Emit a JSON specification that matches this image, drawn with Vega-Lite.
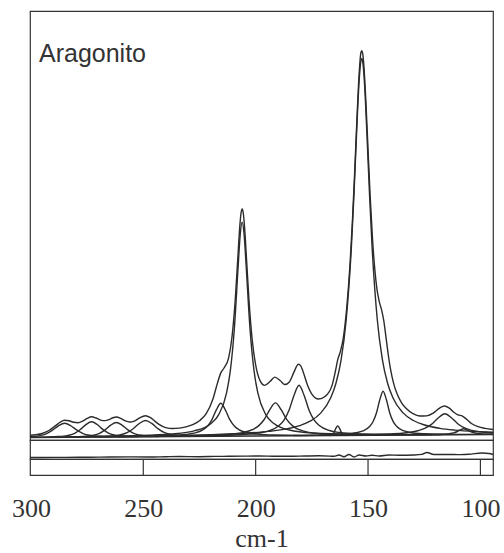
{
  "$schema": "https://vega.github.io/schema/vega-lite/v6.json",
  "padding": {"left": 10, "top": 10, "right": 5, "bottom": 0},
  "background": "white",
  "spacing": 0,
  "bounds": "flush",
  "config": {"view": {"stroke": "#333", "strokeWidth": 1.2}, "concat": {"spacing": 0}},
  "datasets": {
    "spec": [
      {"s":"base","wn":300.4,"v":0.49},{"s":"base","wn":94.4,"v":3.5},
      {"s":"sum","wn":300.4,"v":2.69},{"s":"sum","wn":298,"v":3.23},{"s":"sum","wn":295,"v":4.54},{"s":"sum","wn":292,"v":7.5},{"s":"sum","wn":289,"v":12.32},{"s":"sum","wn":287,"v":15.76},{"s":"sum","wn":285,"v":17.73},{"s":"sum","wn":283,"v":17.2},{"s":"sum","wn":281,"v":15.71},{"s":"sum","wn":279,"v":15.32},{"s":"sum","wn":277,"v":16.83},{"s":"sum","wn":275,"v":19.51},{"s":"sum","wn":273,"v":21.18},{"s":"sum","wn":271,"v":20.0},{"s":"sum","wn":269,"v":17.92},{"s":"sum","wn":267,"v":17.33},{"s":"sum","wn":265,"v":18.68},{"s":"sum","wn":263.5,"v":20.28},{"s":"sum","wn":262,"v":20.95},{"s":"sum","wn":260,"v":19.52},{"s":"sum","wn":258,"v":17.09},{"s":"sum","wn":256,"v":16.03},{"s":"sum","wn":254,"v":16.94},{"s":"sum","wn":252,"v":19.61},{"s":"sum","wn":249,"v":22.3},{"s":"sum","wn":247,"v":20.61},{"s":"sum","wn":245,"v":17.08},{"s":"sum","wn":243,"v":13.7},{"s":"sum","wn":240,"v":10.42},{"s":"sum","wn":237,"v":9.48},{"s":"sum","wn":234,"v":9.86},{"s":"sum","wn":231,"v":11.16},{"s":"sum","wn":228,"v":13.38},{"s":"sum","wn":225,"v":17.22},{"s":"sum","wn":222,"v":24.33},{"s":"sum","wn":219,"v":39.05},{"s":"sum","wn":217,"v":54.84},{"s":"sum","wn":215.5,"v":65.13},{"s":"sum","wn":214,"v":70.21},{"s":"sum","wn":212,"v":80.47},{"s":"sum","wn":210.5,"v":101.51},{"s":"sum","wn":209,"v":140.97},{"s":"sum","wn":208,"v":177.65},{"s":"sum","wn":207,"v":213.38},{"s":"sum","wn":206.5,"v":225.01},{"s":"sum","wn":206,"v":229.12},{"s":"sum","wn":205.5,"v":224.74},{"s":"sum","wn":205,"v":212.84},{"s":"sum","wn":204,"v":176.52},{"s":"sum","wn":203,"v":139.02},{"s":"sum","wn":201.5,"v":97.52},{"s":"sum","wn":200,"v":73.12},{"s":"sum","wn":198,"v":57.17},{"s":"sum","wn":196,"v":52.65},{"s":"sum","wn":193.5,"v":56.75},{"s":"sum","wn":191.5,"v":60.85},{"s":"sum","wn":189,"v":57.19},{"s":"sum","wn":187,"v":53.46},{"s":"sum","wn":185,"v":56.02},{"s":"sum","wn":183,"v":65.62},{"s":"sum","wn":181,"v":73.82},{"s":"sum","wn":180,"v":72.34},{"s":"sum","wn":179,"v":67.02},{"s":"sum","wn":177,"v":53.31},{"s":"sum","wn":175,"v":43.96},{"s":"sum","wn":172,"v":39.03},{"s":"sum","wn":169,"v":41.8},{"s":"sum","wn":166,"v":52.65},{"s":"sum","wn":164.5,"v":67.02},{"s":"sum","wn":163.5,"v":78.15},{"s":"sum","wn":162.5,"v":85.02},{"s":"sum","wn":161,"v":100.1},{"s":"sum","wn":159.5,"v":129.71},{"s":"sum","wn":158,"v":174.27},{"s":"sum","wn":157,"v":214.41},{"s":"sum","wn":156,"v":263.0},{"s":"sum","wn":155,"v":315.97},{"s":"sum","wn":154,"v":362.5},{"s":"sum","wn":153.2,"v":385.0},{"s":"sum","wn":152.8,"v":387.2},{"s":"sum","wn":152.4,"v":384.9},{"s":"sum","wn":152,"v":376.74},{"s":"sum","wn":151,"v":338.78},{"s":"sum","wn":150,"v":288.4},{"s":"sum","wn":149,"v":239.52},{"s":"sum","wn":148,"v":199.05},{"s":"sum","wn":147,"v":168.83},{"s":"sum","wn":146,"v":148.46},{"s":"sum","wn":145,"v":136.36},{"s":"sum","wn":144,"v":128.39},{"s":"sum","wn":143,"v":117.39},{"s":"sum","wn":142,"v":100.69},{"s":"sum","wn":141,"v":83.26},{"s":"sum","wn":140,"v":68.87},{"s":"sum","wn":138.5,"v":53.64},{"s":"sum","wn":137,"v":43.66},{"s":"sum","wn":135,"v":34.98},{"s":"sum","wn":133,"v":29.43},{"s":"sum","wn":130,"v":24.39},{"s":"sum","wn":127,"v":22.07},{"s":"sum","wn":124,"v":22.09},{"s":"sum","wn":121,"v":24.91},{"s":"sum","wn":118,"v":30.16},{"s":"sum","wn":116,"v":32.05},{"s":"sum","wn":114,"v":30.1},{"s":"sum","wn":112,"v":26.05},{"s":"sum","wn":110,"v":23.13},{"s":"sum","wn":108,"v":21.97},{"s":"sum","wn":106,"v":18.51},{"s":"sum","wn":104,"v":14.52},{"s":"sum","wn":101,"v":11.29},{"s":"sum","wn":98,"v":9.62},{"s":"sum","wn":94.4,"v":8.45},
      {"s":"c285","wn":300.4,"v":1.31},{"s":"c285","wn":298.75,"v":1.58},{"s":"c285","wn":296,"v":2.4},{"s":"c285","wn":293.25,"v":4.22},{"s":"c285","wn":290.5,"v":7.64},{"s":"c285","wn":287.75,"v":12.17},{"s":"c285","wn":285,"v":14.72},{"s":"c285","wn":282.25,"v":12.25},{"s":"c285","wn":279.5,"v":7.8},{"s":"c285","wn":276.75,"v":4.46},{"s":"c285","wn":274,"v":2.72},{"s":"c285","wn":271.25,"v":1.98},{"s":"c285","wn":268.5,"v":1.67},{"s":"c285","wn":263,"v":1.45},{"s":"c285","wn":252,"v":1.39},
      {"s":"c273","wn":300.4,"v":0.74},{"s":"c273","wn":293,"v":1.05},{"s":"c273","wn":288,"v":1.46},{"s":"c273","wn":285.5,"v":1.87},{"s":"c273","wn":283,"v":2.76},{"s":"c273","wn":280.5,"v":4.74},{"s":"c273","wn":278,"v":8.47},{"s":"c273","wn":275.5,"v":13.41},{"s":"c273","wn":273,"v":16.19},{"s":"c273","wn":270.5,"v":13.48},{"s":"c273","wn":268,"v":8.62},{"s":"c273","wn":265.5,"v":4.96},{"s":"c273","wn":263,"v":3.05},{"s":"c273","wn":260.5,"v":2.24},{"s":"c273","wn":258,"v":1.89},{"s":"c273","wn":253,"v":1.64},{"s":"c273","wn":243,"v":1.54},
      {"s":"c262","wn":292,"v":0.81},{"s":"c262","wn":282,"v":1.18},{"s":"c262","wn":277,"v":1.57},{"s":"c262","wn":274.5,"v":1.96},{"s":"c262","wn":272,"v":2.8},{"s":"c262","wn":269.5,"v":4.68},{"s":"c262","wn":267,"v":8.18},{"s":"c262","wn":264.5,"v":12.84},{"s":"c262","wn":262,"v":15.45},{"s":"c262","wn":259.5,"v":12.91},{"s":"c262","wn":257,"v":8.33},{"s":"c262","wn":254.5,"v":4.89},{"s":"c262","wn":252,"v":3.09},{"s":"c262","wn":249.5,"v":2.33},{"s":"c262","wn":247,"v":2.0},{"s":"c262","wn":242,"v":1.77},{"s":"c262","wn":232,"v":1.68},
      {"s":"c249","wn":282,"v":0.98},{"s":"c249","wn":271,"v":1.4},{"s":"c249","wn":265.5,"v":1.83},{"s":"c249","wn":262.75,"v":2.26},{"s":"c249","wn":260,"v":3.21},{"s":"c249","wn":257.25,"v":5.31},{"s":"c249","wn":254.5,"v":9.26},{"s":"c249","wn":251.75,"v":14.49},{"s":"c249","wn":249,"v":17.44},{"s":"c249","wn":246.25,"v":14.57},{"s":"c249","wn":243.5,"v":9.42},{"s":"c249","wn":240.75,"v":5.55},{"s":"c249","wn":238,"v":3.54},{"s":"c249","wn":235.25,"v":2.67},{"s":"c249","wn":232.5,"v":2.32},{"s":"c249","wn":227,"v":2.05},{"s":"c249","wn":216,"v":1.95},
      {"s":"c215","wn":271.5,"v":1.09},{"s":"c215","wn":251.5,"v":1.61},{"s":"c215","wn":239.5,"v":2.27},{"s":"c215","wn":231.5,"v":3.44},{"s":"c215","wn":227.5,"v":4.86},{"s":"c215","wn":223.5,"v":8.21},{"s":"c215","wn":221.5,"v":11.79},{"s":"c215","wn":219.5,"v":18.17},{"s":"c215","wn":217.5,"v":28.1},{"s":"c215","wn":215.5,"v":34.73},{"s":"c215","wn":213.5,"v":28.16},{"s":"c215","wn":211.5,"v":18.29},{"s":"c215","wn":209.5,"v":11.97},{"s":"c215","wn":207.5,"v":8.45},{"s":"c215","wn":203.5,"v":5.21},{"s":"c215","wn":199.5,"v":3.91},{"s":"c215","wn":191.5,"v":2.97},{"s":"c215","wn":179.5,"v":2.66},{"s":"c215","wn":159.5,"v":2.72},
      {"s":"c206","wn":276,"v":1.39},{"s":"c206","wn":255,"v":2.25},{"s":"c206","wn":237.5,"v":4.02},{"s":"c206","wn":227,"v":7.35},{"s":"c206","wn":220,"v":14.27},{"s":"c206","wn":216.5,"v":23.12},{"s":"c206","wn":213,"v":44.57},{"s":"c206","wn":211.25,"v":67.59},{"s":"c206","wn":209.5,"v":108.82},{"s":"c206","wn":207.75,"v":173.05},{"s":"c206","wn":206.875,"v":203.27},{"s":"c206","wn":206,"v":215.87},{"s":"c206","wn":205.125,"v":203.29},{"s":"c206","wn":204.25,"v":173.09},{"s":"c206","wn":202.5,"v":108.92},{"s":"c206","wn":200.75,"v":67.75},{"s":"c206","wn":199,"v":44.77},{"s":"c206","wn":195.5,"v":23.42},{"s":"c206","wn":192,"v":14.68},{"s":"c206","wn":185,"v":7.96},{"s":"c206","wn":174.5,"v":4.94},{"s":"c206","wn":157,"v":3.68},{"s":"c206","wn":136,"v":3.43},
      {"s":"c191","wn":261.2,"v":1.24},{"s":"c191","wn":236.2,"v":1.83},{"s":"c191","wn":221.2,"v":2.54},{"s":"c191","wn":211.2,"v":3.73},{"s":"c191","wn":206.2,"v":5.17},{"s":"c191","wn":201.2,"v":8.54},{"s":"c191","wn":198.7,"v":12.13},{"s":"c191","wn":196.2,"v":18.52},{"s":"c191","wn":193.7,"v":28.45},{"s":"c191","wn":191.2,"v":35.09},{"s":"c191","wn":188.7,"v":28.52},{"s":"c191","wn":186.2,"v":18.66},{"s":"c191","wn":183.7,"v":12.35},{"s":"c191","wn":181.2,"v":8.83},{"s":"c191","wn":176.2,"v":5.61},{"s":"c191","wn":171.2,"v":4.32},{"s":"c191","wn":161.2,"v":3.42},{"s":"c191","wn":146.2,"v":3.15},{"s":"c191","wn":121.2,"v":3.28},
      {"s":"c181","wn":243.7,"v":1.58},{"s":"c181","wn":221.2,"v":2.27},{"s":"c181","wn":207.7,"v":3.21},{"s":"c181","wn":198.7,"v":4.95},{"s":"c181","wn":194.2,"v":7.09},{"s":"c181","wn":189.7,"v":12.21},{"s":"c181","wn":187.45,"v":17.68},{"s":"c181","wn":185.2,"v":27.43},{"s":"c181","wn":182.95,"v":42.61},{"s":"c181","wn":180.7,"v":52.74},{"s":"c181","wn":178.45,"v":42.67},{"s":"c181","wn":176.2,"v":27.56},{"s":"c181","wn":173.95,"v":17.88},{"s":"c181","wn":171.7,"v":12.47},{"s":"c181","wn":167.2,"v":7.49},{"s":"c181","wn":162.7,"v":5.47},{"s":"c181","wn":153.7,"v":4.0},{"s":"c181","wn":140.2,"v":3.45},{"s":"c181","wn":117.7,"v":3.42},
      {"s":"c163","wn":167.4,"v":2.46},{"s":"c163","wn":166.75,"v":2.57},{"s":"c163","wn":166.1,"v":3.05},{"s":"c163","wn":165.45,"v":4.46},{"s":"c163","wn":164.8,"v":7.22},{"s":"c163","wn":164.15,"v":10.47},{"s":"c163","wn":163.5,"v":11.99},{"s":"c163","wn":162.85,"v":10.49},{"s":"c163","wn":162.2,"v":7.26},{"s":"c163","wn":161.55,"v":4.52},{"s":"c163","wn":160.9,"v":3.12},{"s":"c163","wn":160.25,"v":2.66},{"s":"c163","wn":159.6,"v":2.57},
      {"s":"c153","wn":244.8,"v":2.25},{"s":"c153","wn":217.2,"v":3.63},{"s":"c153","wn":205,"v":4.78},{"s":"c153","wn":194.2,"v":6.65},{"s":"c153","wn":187,"v":8.85},{"s":"c153","wn":180.4,"v":12.45},{"s":"c153","wn":175.8,"v":16.8},{"s":"c153","wn":171.2,"v":24.59},{"s":"c153","wn":166.6,"v":40.15},{"s":"c153","wn":164.3,"v":54.5},{"s":"c153","wn":162,"v":77.92},{"s":"c153","wn":159.7,"v":118.55},{"s":"c153","wn":157.4,"v":191.09},{"s":"c153","wn":156.25,"v":243.9},{"s":"c153","wn":155.1,"v":304.22},{"s":"c153","wn":153.95,"v":357.44},{"s":"c153","wn":153.375,"v":373.85},{"s":"c153","wn":152.8,"v":379.65},{"s":"c153","wn":152.225,"v":373.86},{"s":"c153","wn":151.65,"v":357.47},{"s":"c153","wn":150.5,"v":304.28},{"s":"c153","wn":149.35,"v":244.0},{"s":"c153","wn":148.2,"v":191.22},{"s":"c153","wn":145.9,"v":118.75},{"s":"c153","wn":143.6,"v":78.18},{"s":"c153","wn":141.3,"v":54.8},{"s":"c153","wn":139,"v":40.55},{"s":"c153","wn":134.4,"v":25.12},{"s":"c153","wn":129.8,"v":17.5},{"s":"c153","wn":125.2,"v":13.25},{"s":"c153","wn":118,"v":9.63},{"s":"c153","wn":111.4,"v":7.85},{"s":"c153","wn":102,"v":6.46},{"s":"c153","wn":94.4,"v":5.82},
      {"s":"c143","wn":183.3,"v":2.46},{"s":"c143","wn":170.3,"v":2.94},{"s":"c143","wn":161.3,"v":3.72},{"s":"c143","wn":155.3,"v":5.2},{"s":"c143","wn":152.3,"v":7.06},{"s":"c143","wn":149.3,"v":11.5},{"s":"c143","wn":147.8,"v":16.26},{"s":"c143","wn":146.3,"v":24.74},{"s":"c143","wn":144.8,"v":37.97},{"s":"c143","wn":143.3,"v":46.79},{"s":"c143","wn":141.8,"v":38.01},{"s":"c143","wn":140.3,"v":24.83},{"s":"c143","wn":138.8,"v":16.39},{"s":"c143","wn":137.3,"v":11.67},{"s":"c143","wn":134.3,"v":7.32},{"s":"c143","wn":131.3,"v":5.55},{"s":"c143","wn":125.3,"v":4.24},{"s":"c143","wn":116.3,"v":3.72},{"s":"c143","wn":103.3,"v":3.62},
      {"s":"c116","wn":151.8,"v":3.23},{"s":"c116","wn":139.8,"v":4.08},{"s":"c116","wn":133.8,"v":5.03},{"s":"c116","wn":127.8,"v":7.21},{"s":"c116","wn":124.8,"v":9.52},{"s":"c116","wn":121.8,"v":13.6},{"s":"c116","wn":118.8,"v":19.95},{"s":"c116","wn":115.8,"v":24.19},{"s":"c116","wn":112.8,"v":20.03},{"s":"c116","wn":109.8,"v":13.78},{"s":"c116","wn":106.8,"v":9.78},{"s":"c116","wn":103.8,"v":7.56},{"s":"c116","wn":97.8,"v":5.55},{"s":"c116","wn":94.4,"v":5.03},
      {"s":"c107","wn":120.5,"v":3.42},{"s":"c107","wn":116.5,"v":3.78},{"s":"c107","wn":113.5,"v":4.42},{"s":"c107","wn":112,"v":5.09},{"s":"c107","wn":110.5,"v":6.26},{"s":"c107","wn":109,"v":8.09},{"s":"c107","wn":107.5,"v":9.31},{"s":"c107","wn":106,"v":8.13},{"s":"c107","wn":104.5,"v":6.35},{"s":"c107","wn":103,"v":5.22},{"s":"c107","wn":101.5,"v":4.59},{"s":"c107","wn":98.5,"v":4.04},{"s":"c107","wn":94.5,"v":3.8}
    ],
    "res": [
      {"wn":300.4,"r":1.5},{"wn":290,"r":1.6},{"wn":278.6,"r":1.7},{"wn":270,"r":1.9},{"wn":265,"r":2.0},{"wn":256,"r":2.1},{"wn":247.5,"r":2.0},{"wn":240,"r":2.3},{"wn":234,"r":2.5},{"wn":225,"r":2.3},{"wn":218,"r":2.6},{"wn":212,"r":2.7},{"wn":205,"r":2.9},{"wn":198.5,"r":3.0},{"wn":192,"r":2.8},{"wn":185,"r":2.7},{"wn":178,"r":3.0},{"wn":171.8,"r":3.2},{"wn":167,"r":2.9},{"wn":165.1,"r":2.7},{"wn":162.9,"r":4.0},{"wn":160.7,"r":2.2},{"wn":158.5,"r":4.5},{"wn":156.2,"r":2.0},{"wn":154,"r":4.0},{"wn":150.9,"r":3.0},{"wn":148.2,"r":3.7},{"wn":145.1,"r":3.0},{"wn":140.7,"r":4.0},{"wn":136.2,"r":3.7},{"wn":129.6,"r":4.0},{"wn":126,"r":4.6},{"wn":123.8,"r":6.5},{"wn":120.7,"r":4.5},{"wn":114,"r":4.5},{"wn":109,"r":4.4},{"wn":105.1,"r":4.7},{"wn":99.3,"r":6.0},{"wn":96.2,"r":5.5},{"wn":94.4,"r":4.5}
    ],
    "ticks": [{"wn":250},{"wn":200},{"wn":150},{"wn":100}]
  },
  "vconcat": [
    {
      "width": 463, "height": 429,
      "layer": [
        {
          "data": {"name": "spec"},
          "mark": {"type": "line", "interpolate": "monotone", "color": "#2b2b2b", "strokeWidth": 1.4},
          "encoding": {
            "x": {"field": "wn", "type": "quantitative", "scale": {"domain": [94.4, 300.4], "reverse": true, "nice": false, "zero": false}, "axis": null},
            "y": {"field": "v", "type": "quantitative", "scale": {"domain": [-2, 427], "nice": false, "zero": false}, "axis": null},
            "detail": {"field": "s", "type": "nominal"}
          }
        },
        {
          "data": {"values": [{}]},
          "mark": {"type": "text", "text": "Aragonito", "align": "left", "baseline": "alphabetic", "font": "Liberation Sans", "fontSize": 25, "color": "#333"},
          "encoding": {
            "x": {"datum": 296.4, "type": "quantitative"},
            "y": {"datum": 376, "type": "quantitative"}
          }
        }
      ]
    },
    {
      "width": 463, "height": 19,
      "data": {"name": "res"},
      "mark": {"type": "line", "interpolate": "monotone", "color": "#2b2b2b", "strokeWidth": 1.4},
      "encoding": {
        "x": {"field": "wn", "type": "quantitative", "scale": {"domain": [94.4, 300.4], "reverse": true, "nice": false, "zero": false}, "axis": null},
        "y": {"field": "r", "type": "quantitative", "scale": {"domain": [0, 19], "nice": false, "zero": false}, "axis": null}
      }
    },
    {
      "width": 463, "height": 16,
      "data": {"name": "ticks"},
      "mark": {"type": "rule", "color": "#333", "strokeWidth": 1.2},
      "encoding": {
        "x": {"field": "wn", "type": "quantitative", "scale": {"domain": [94.4, 300.4], "reverse": true, "nice": false, "zero": false},
          "axis": {"values": [300, 250, 200, 150, 100], "labelFlush": false, "ticks": false, "tickSize": 0, "domain": false, "grid": false, "labelFont": "Liberation Serif, DejaVu Serif, serif", "labelFontSize": 26, "labelColor": "#333", "labelPadding": 20, "labelOverlap": false, "title": "cm-1", "titleFont": "Liberation Serif, DejaVu Serif, serif", "titleFontSize": 26, "titleFontWeight": "normal", "titleColor": "#333", "titlePadding": 4}}
      }
    }
  ]
}
